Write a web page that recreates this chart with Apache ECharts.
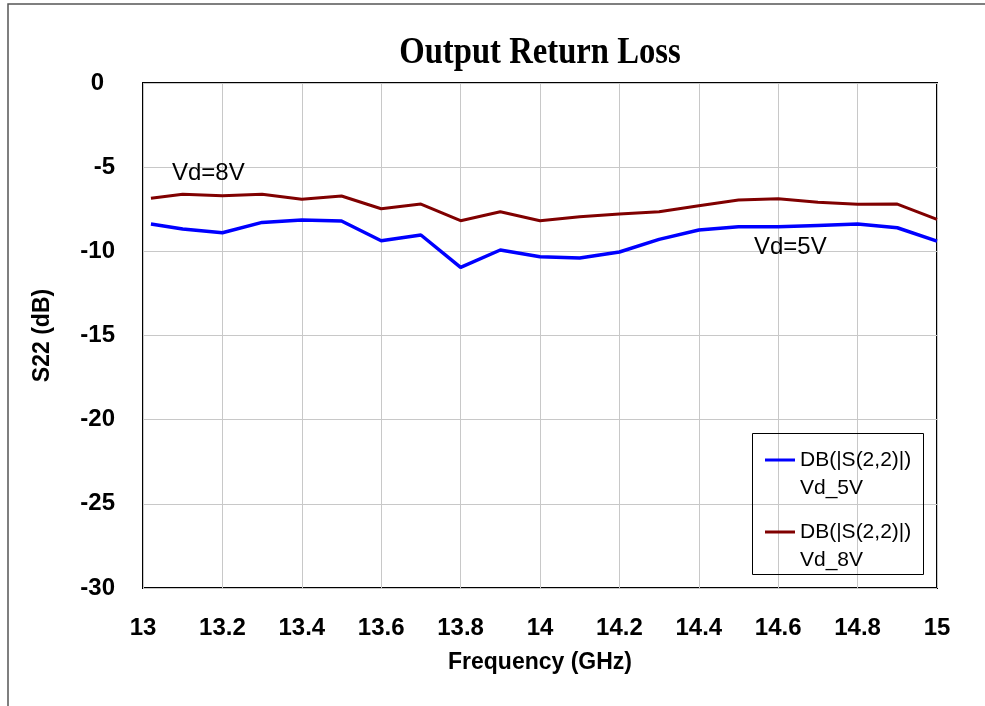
<!DOCTYPE html>
<html>
<head>
<meta charset="utf-8">
<script src="https://cdn.jsdelivr.net/npm/echarts@6/dist/echarts.min.js"></script>
<style>
  html, body { margin: 0; padding: 0; background: #fff; }
  #chart { width: 985px; height: 706px; }
</style>
</head>
<body>
<div id="chart"></div>
<script>
// frequency points (GHz)
const freqs = [13.02, 13.1, 13.2, 13.3, 13.4, 13.5, 13.6, 13.7, 13.8, 13.9, 14.0,
  14.1, 14.2, 14.3, 14.4, 14.5, 14.6, 14.7, 14.8, 14.9, 15.0];
// S22 in dB
const s22Vd5 = [-8.38, -8.67, -8.90, -8.28, -8.14, -8.20, -9.37, -9.03, -10.95, -9.92, -10.32,
  -10.40, -10.04, -9.29, -8.73, -8.54, -8.54, -8.46, -8.38, -8.60, -9.39];
const s22Vd8 = [-6.85, -6.61, -6.70, -6.61, -6.91, -6.71, -7.47, -7.19, -8.18, -7.65, -8.18,
  -7.94, -7.78, -7.65, -7.29, -6.95, -6.87, -7.09, -7.21, -7.19, -8.10];
const seriesNames = ["DB(|S(2,2)|)\nVd_5V", "DB(|S(2,2)|)\nVd_8V"];
const seriesColors = ["#0000ff", "#800000"];

const SANS = "'Liberation Sans', Arial, sans-serif";
const SERIF = "'Liberation Serif', 'Times New Roman', serif";

const chart = echarts.init(document.getElementById("chart"), null, { renderer: "canvas" });

const pairs = (ys) => freqs.map((f, i) => [f, ys[i]]);

const option = {
  animation: false,
  backgroundColor: "#fff",
  grid: {
    left: 143,
    right: 48,
    top: 83,
    bottom: 118,
    show: true,
    borderColor: "#000",
    borderWidth: 2,
  },
  xAxis: {
    type: "value",
    min: 13,
    max: 15,
    interval: 0.2,
    name: "Frequency (GHz)",
    nameLocation: "middle",
    nameGap: 63,
    nameTextStyle: { fontFamily: SANS, fontWeight: "bold", fontSize: 23, color: "#000" },
    axisLine: { show: false },
    axisTick: { show: false },
    axisLabel: {
      margin: 28,
      fontFamily: SANS,
      fontWeight: "bold",
      fontSize: 24,
      color: "#000",
    },
    splitLine: { show: true, lineStyle: { color: "#c8c8c8", width: 1 } },
  },
  yAxis: {
    type: "value",
    min: -30,
    max: 0,
    interval: 5,
    name: "S22 (dB)",
    nameLocation: "middle",
    nameGap: 89,
    nameTextStyle: { fontFamily: SANS, fontWeight: "bold", fontSize: 23, color: "#000" },
    axisLine: { show: false },
    axisTick: { show: false },
    axisLabel: {
      margin: 28,
      fontFamily: SANS,
      fontWeight: "bold",
      fontSize: 24,
      color: "#000",
      formatter: (v) => (v === 0 ? "{z|0}" : String(v)),
      rich: {
        z: { fontFamily: SANS, fontWeight: "bold", fontSize: 24, color: "#000", padding: [0, 11, 0, 0] },
      },
    },
    splitLine: { show: true, lineStyle: { color: "#c8c8c8", width: 1 } },
  },
  legend: {
    orient: "vertical",
    left: 760,
    top: 413,
    itemWidth: 30,
    itemHeight: 3,
    itemGap: -12,
    icon: "rect",
    selectedMode: false,
    data: seriesNames,
    formatter: (name) => " \n" + name,
    textStyle: { fontFamily: SANS, fontSize: 21, lineHeight: 28, color: "#000" },
  },
  series: [
    {
      name: seriesNames[0],
      type: "line",
      data: pairs(s22Vd5),
      showSymbol: false,
      symbol: "none",
      itemStyle: { color: seriesColors[0] },
      lineStyle: { color: seriesColors[0], width: 3.5 },
      emphasis: { disabled: true },
      z: 3,
    },
    {
      name: seriesNames[1],
      type: "line",
      data: pairs(s22Vd8),
      showSymbol: false,
      symbol: "none",
      itemStyle: { color: seriesColors[1] },
      lineStyle: { color: seriesColors[1], width: 3 },
      emphasis: { disabled: true },
      z: 2,
    },
  ],
  graphic: [
    // outer frame of the figure (only left and top edges are in view)
    {
      type: "rect",
      shape: { x: 8, y: 4, width: 1200, height: 1200 },
      style: { fill: "none", stroke: "#555", lineWidth: 1.5 },
      silent: true,
    },
    // legend box
    {
      type: "rect",
      shape: { x: 752.5, y: 433.5, width: 171, height: 141 },
      style: { fill: "none", stroke: "#000", lineWidth: 1 },
      silent: true,
      z: 5,
    },
    {
      type: "text",
      x: 540,
      y: 53,
      scaleX: 0.86,
      style: {
        text: "Output Return Loss",
        fontFamily: SERIF,
        fontWeight: "bold",
        fontSize: 38,
        fill: "#000",
        align: "center",
        verticalAlign: "middle",
      },
      silent: true,
    },
    {
      type: "text",
      x: 172,
      y: 173,
      style: { text: "Vd=8V", fontFamily: SANS, fontSize: 24, fill: "#000", verticalAlign: "middle" },
      silent: true,
      z: 5,
    },
    {
      type: "text",
      x: 754,
      y: 247,
      style: { text: "Vd=5V", fontFamily: SANS, fontSize: 24, fill: "#000", verticalAlign: "middle" },
      silent: true,
      z: 5,
    },
  ],
};

chart.setOption(option);
</script>
</body>
</html>
